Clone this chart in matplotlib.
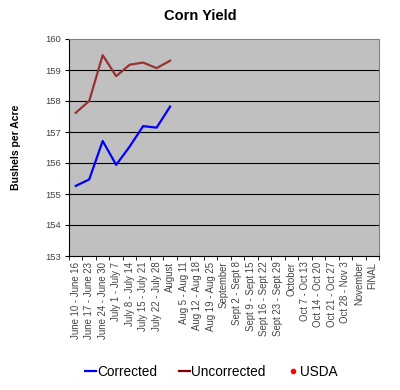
import matplotlib
matplotlib.use("Agg")
import matplotlib.pyplot as plt
import numpy as np
from matplotlib.lines import Line2D

plt.rcParams['font.family'] = ['Liberation Sans', 'DejaVu Sans']

categories = ["June 10 - June 16", "June 17 - June 23", "June 24 - June 30", "July 1 - July 7",
              "July 8 - July 14", "July 15 - July 21", "July 22 - July 28", "August",
              "Aug 5 - Aug 11", "Aug 12 - Aug 18", "Aug 19 - Aug 25", "September",
              "Sept 2 - Sept 8", "Sept 9 - Sept 15", "Sept 16 - Sept 22", "Sept 23 - Sept 29",
              "October", "Oct 7 - Oct 13", "Oct 14 - Oct 20", "Oct 21 - Oct 27",
              "Oct 28 - Nov 3", "November", "FINAL"]
corrected = [155.26, 155.47, 156.71, 155.94, 156.53, 157.19, 157.14, 157.82]
uncorrected = [157.62, 158.0, 159.48, 158.8, 159.17, 159.24, 159.06, 159.3]
usda = []
yticks = [153, 154, 155, 156, 157, 158, 159, 160]

fig = plt.figure(figsize=(4, 3.9), dpi=100)
ax = fig.add_axes([69/400, 1-256/390, 310/400, 217/390])
ax.set_facecolor('#c0c0c0')
n = len(categories)
x = np.arange(n)
ax.plot(x[:len(corrected)], corrected, color='#0000ff', lw=1.6, zorder=3)
ax.plot(x[:len(uncorrected)], uncorrected, color='#993333', lw=1.6, zorder=3)
ax.set_xlim(-0.5, n-0.5)
ax.set_ylim(153, 160)
ax.set_yticks(yticks)
ax.set_yticklabels([str(v) for v in yticks], fontsize=6.8, color='#444444')
for v in yticks[1:-1]:
    ax.axhline(v, color='black', lw=0.8, zorder=1)
ax.set_xticks(x)
ax.set_xticklabels(categories, rotation=90, fontsize=6.9, color='#444444')
ax.set_xticks(np.arange(-0.5, n, 1), minor=True)
ax.tick_params(axis='x', which='major', length=0, pad=4)
ax.tick_params(axis='x', which='minor', length=3, direction='out', color='black')
ax.tick_params(axis='y', length=3, direction='out', pad=3)
for s in ['top', 'right']:
    ax.spines[s].set_color('#808080')
    ax.spines[s].set_linewidth(0.8)
for s in ['left', 'bottom']:
    ax.spines[s].set_color('black')
    ax.spines[s].set_linewidth(0.8)
ax.set_ylabel('Bushels per Acre', fontsize=7.5, fontweight='bold', labelpad=17)
fig.text(0.5, 1-16/390, 'Corn Yield', ha='center', va='center', fontsize=10.5, fontweight='bold')

handles = [Line2D([], [], color='#0000ff', lw=1.6),
           Line2D([], [], color='#800000', lw=1.6),
           Line2D([], [], color='red', marker='o', ms=3, lw=0)]
fig.legend(handles, ['Corrected', 'Uncorrected', 'USDA'], loc='center',
           bbox_to_anchor=(211/400, 1-372/390), ncol=3, frameon=False, fontsize=9.8,
           handlelength=0.8, handletextpad=0.1, columnspacing=1.6)
fig.savefig('out.png', dpi=100)
